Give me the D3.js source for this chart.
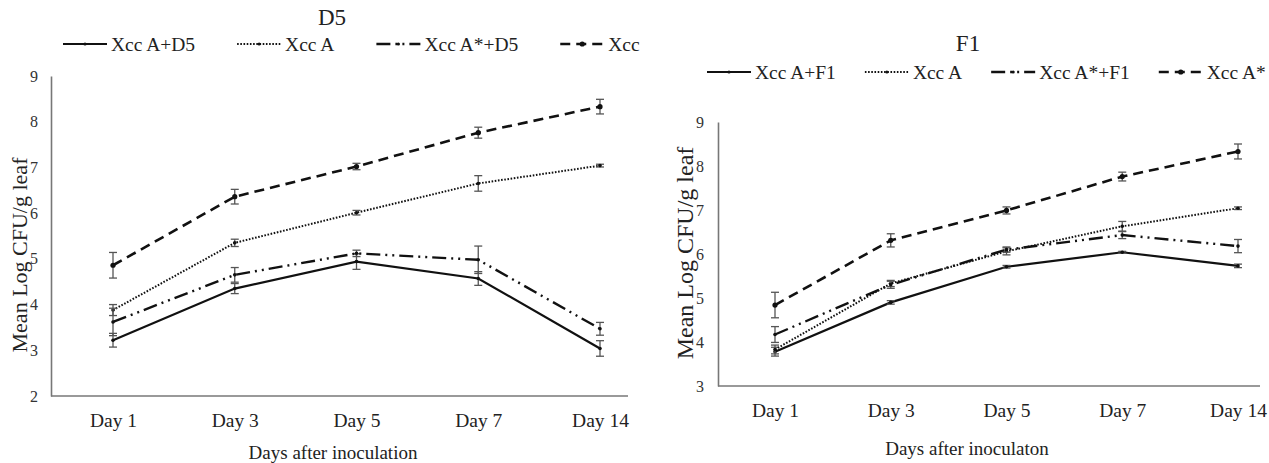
<!DOCTYPE html>
<html>
<head>
<meta charset="utf-8">
<script src="https://cdn.jsdelivr.net/npm/d3@7"></script>
<style>
  body { margin: 0; background: #fff; }
  svg { display: block; font-family: "Liberation Serif", "Times New Roman", serif; }
</style>
</head>
<body>
<svg id="chart" width="1269" height="463"></svg>
<script>
// categorias (eixo x)
const days = ["Day 1", "Day 3", "Day 5", "Day 7", "Day 14"];

// painel D5
const d5Names = ["Xcc A+D5", "Xcc A", "Xcc A*+D5", "Xcc A*"];
const d5XccAD5 = [3.22, 4.35, 4.94, 4.57, 3.04];
const d5XccAD5Err = [0.15, 0.11, 0.17, 0.15, 0.17];
const d5XccA = [3.88, 5.35, 6.01, 6.65, 7.04];
const d5XccAErr = [0.12, 0.08, 0.05, 0.17, 0.03];
const d5XccAsD5 = [3.62, 4.65, 5.12, 4.98, 3.47];
const d5XccAsD5Err = [0.3, 0.16, 0.07, 0.3, 0.14];
const d5XccAs = [4.86, 6.36, 7.02, 7.76, 8.33];
const d5XccAsErr = [0.28, 0.16, 0.07, 0.12, 0.16];
const d5Ticks = [2, 3, 4, 5, 6, 7, 8, 9];

// painel F1
const f1Names = ["Xcc A+F1", "Xcc A", "Xcc A*+F1", "Xcc A*"];
const f1XccAF1 = [3.78, 4.9, 5.71, 6.04, 5.73];
const f1XccAF1Err = [0.1, 0.04, 0.03, 0.02, 0.04];
const f1XccA = [3.83, 5.33, 6.06, 6.63, 7.04];
const f1XccAErr = [0.1, 0.07, 0.08, 0.11, 0.03];
const f1XccAsF1 = [4.17, 5.3, 6.1, 6.43, 6.18];
const f1XccAsF1Err = [0.18, 0.08, 0.06, 0.08, 0.15];
const f1XccAs = [4.84, 6.31, 6.99, 7.76, 8.33];
const f1XccAsErr = [0.29, 0.15, 0.08, 0.1, 0.17];
const f1Ticks = [3, 4, 5, 6, 7, 8, 9];

// estilos das linhas (mesma ordem das séries)
const lineStyles = [
    { dash: null, width: 2.2 },
    { dash: "1.6,1.6", width: 2 },
    { dash: "14,5,2,5,2,5", width: 2.4 },
    { dash: "10,6", width: 2.6 }
];

const serif = "Liberation Serif, Times New Roman, serif";
const svg = d3.select("#chart");

function drawPanel(cfg) {
    const g = svg.append("g");
    if (cfg.clip) {
        svg.append("clipPath").attr("id", cfg.id + "_clip")
            .append("rect").attr("x", cfg.clip[0]).attr("y", 0)
            .attr("width", cfg.clip[1] - cfg.clip[0]).attr("height", 463);
        g.attr("clip-path", `url(#${cfg.id}_clip)`);
    }

    const x = d3.scalePoint().domain(days).range(cfg.xRange);
    const y = d3.scaleLinear().domain(cfg.yDomain).range(cfg.yRange);

    // título
    g.append("text")
        .attr("x", cfg.titleX).attr("y", cfg.titleY)
        .attr("text-anchor", "middle")
        .attr("font-size", 23).attr("fill", "#222")
        .text(cfg.title);

    // eixo y
    const yAxis = g.append("g")
        .attr("transform", `translate(${cfg.axisLeft},0)`)
        .call(d3.axisLeft(y).tickValues(cfg.ticks).tickFormat(d3.format("d"))
            .tickSize(0).tickPadding(cfg.tickPad));
    yAxis.attr("font-family", serif);
    yAxis.select(".domain").attr("stroke", "#777").attr("stroke-width", 1.6);
    yAxis.selectAll("text").attr("font-size", 16).attr("fill", "#333");

    // eixo x (linha até o fim da área do gráfico)
    const xAxis = g.append("g")
        .attr("transform", `translate(0,${cfg.yRange[0]})`)
        .call(d3.axisBottom(x).tickSize(0).tickPadding(17));
    xAxis.attr("font-family", serif);
    xAxis.select(".domain")
        .attr("d", `M${cfg.axisLeft},0H${cfg.axisRight}`)
        .attr("stroke", "#777").attr("stroke-width", 1.6);
    xAxis.selectAll("text").attr("font-size", 19.5).attr("fill", "#222");

    // títulos dos eixos
    g.append("text")
        .attr("transform", `translate(${cfg.yTitleX},${cfg.yTitleY}) rotate(-90)`)
        .attr("text-anchor", "middle")
        .attr("font-size", cfg.yTitleSize).attr("fill", "#222")
        .text("Mean Log CFU/g leaf");
    g.append("text")
        .attr("x", cfg.xTitleX).attr("y", cfg.xTitleY)
        .attr("text-anchor", "middle")
        .attr("font-size", 19).attr("fill", "#222")
        .text(cfg.xTitle);

    // séries
    cfg.series.forEach((s, i) => {
        const st = lineStyles[i];
        const pts = days.map((d, k) => ({ d: d, v: s.values[k], e: s.errors[k] }));

        g.append("path")
            .datum(pts)
            .attr("fill", "none")
            .attr("stroke", "#111")
            .attr("stroke-width", st.width)
            .attr("stroke-dasharray", st.dash)
            .attr("d", d3.line().x(p => x(p.d)).y(p => y(p.v)));

        // barras de erro
        const eb = g.append("g").attr("stroke", "#555").attr("stroke-width", 1.3);
        eb.selectAll("line.v").data(pts).enter().append("line")
            .attr("x1", p => x(p.d)).attr("x2", p => x(p.d))
            .attr("y1", p => y(p.v - p.e)).attr("y2", p => y(p.v + p.e));
        eb.selectAll("line.top").data(pts).enter().append("line")
            .attr("x1", p => x(p.d) - 4).attr("x2", p => x(p.d) + 4)
            .attr("y1", p => y(p.v + p.e)).attr("y2", p => y(p.v + p.e));
        eb.selectAll("line.bot").data(pts).enter().append("line")
            .attr("x1", p => x(p.d) - 4).attr("x2", p => x(p.d) + 4)
            .attr("y1", p => y(p.v - p.e)).attr("y2", p => y(p.v - p.e));

        g.selectAll(null).data(pts).enter().append("circle")
            .attr("cx", p => x(p.d)).attr("cy", p => y(p.v))
            .attr("r", i == 3 ? 2.6 : 1.8)
            .attr("fill", "#111");
    });

    // legenda
    let lx = cfg.legendX;
    cfg.series.forEach((s, i) => {
        const st = lineStyles[i];
        const ly = cfg.legendY;
        g.append("line")
            .attr("x1", lx).attr("x2", lx + cfg.legendLine)
            .attr("y1", ly).attr("y2", ly)
            .attr("stroke", "#111").attr("stroke-width", st.width)
            .attr("stroke-dasharray", st.dash);
        g.append("circle")
            .attr("cx", lx + cfg.legendLine / 2).attr("cy", ly)
            .attr("r", i == 3 ? 2.6 : 1.6).attr("fill", "#111");
        const t = g.append("text")
            .attr("x", lx + cfg.legendLine + 4).attr("y", ly + 6.5)
            .attr("font-size", cfg.legendSize).attr("fill", "#222")
            .text(s.name);
        lx += cfg.legendLine + 4 + t.node().getComputedTextLength() + cfg.legendGap;
    });
}

drawPanel({
    id: "d5",
    title: "D5", titleX: 332, titleY: 25,
    clip: [0, 641],
    xRange: [113, 600], yDomain: [2, 9], yRange: [396, 76],
    axisLeft: 51, axisRight: 628, ticks: d5Ticks, tickPad: 13,
    yTitleX: 27, yTitleY: 255, yTitleSize: 22,
    xTitle: "Days after inoculation", xTitleX: 333, xTitleY: 459,
    legendX: 63, legendY: 44, legendLine: 44, legendGap: 42, legendSize: 19.5,
    series: [
        { name: d5Names[0], values: d5XccAD5, errors: d5XccAD5Err },
        { name: d5Names[1], values: d5XccA, errors: d5XccAErr },
        { name: d5Names[2], values: d5XccAsD5, errors: d5XccAsD5Err },
        { name: d5Names[3], values: d5XccAs, errors: d5XccAsErr }
    ]
});

drawPanel({
    id: "f1",
    title: "F1", titleX: 968, titleY: 51,
    clip: null,
    xRange: [775, 1238], yDomain: [3, 9], yRange: [386, 122],
    axisLeft: 718, axisRight: 1260, ticks: f1Ticks, tickPad: 14,
    yTitleX: 693, yTitleY: 253, yTitleSize: 24,
    xTitle: "Days after inoculaton", xTitleX: 967, xTitleY: 455,
    legendX: 707, legendY: 72, legendLine: 44, legendGap: 29, legendSize: 19.5,
    series: [
        { name: f1Names[0], values: f1XccAF1, errors: f1XccAF1Err },
        { name: f1Names[1], values: f1XccA, errors: f1XccAErr },
        { name: f1Names[2], values: f1XccAsF1, errors: f1XccAsF1Err },
        { name: f1Names[3], values: f1XccAs, errors: f1XccAsErr }
    ]
});
</script>
</body>
</html>
